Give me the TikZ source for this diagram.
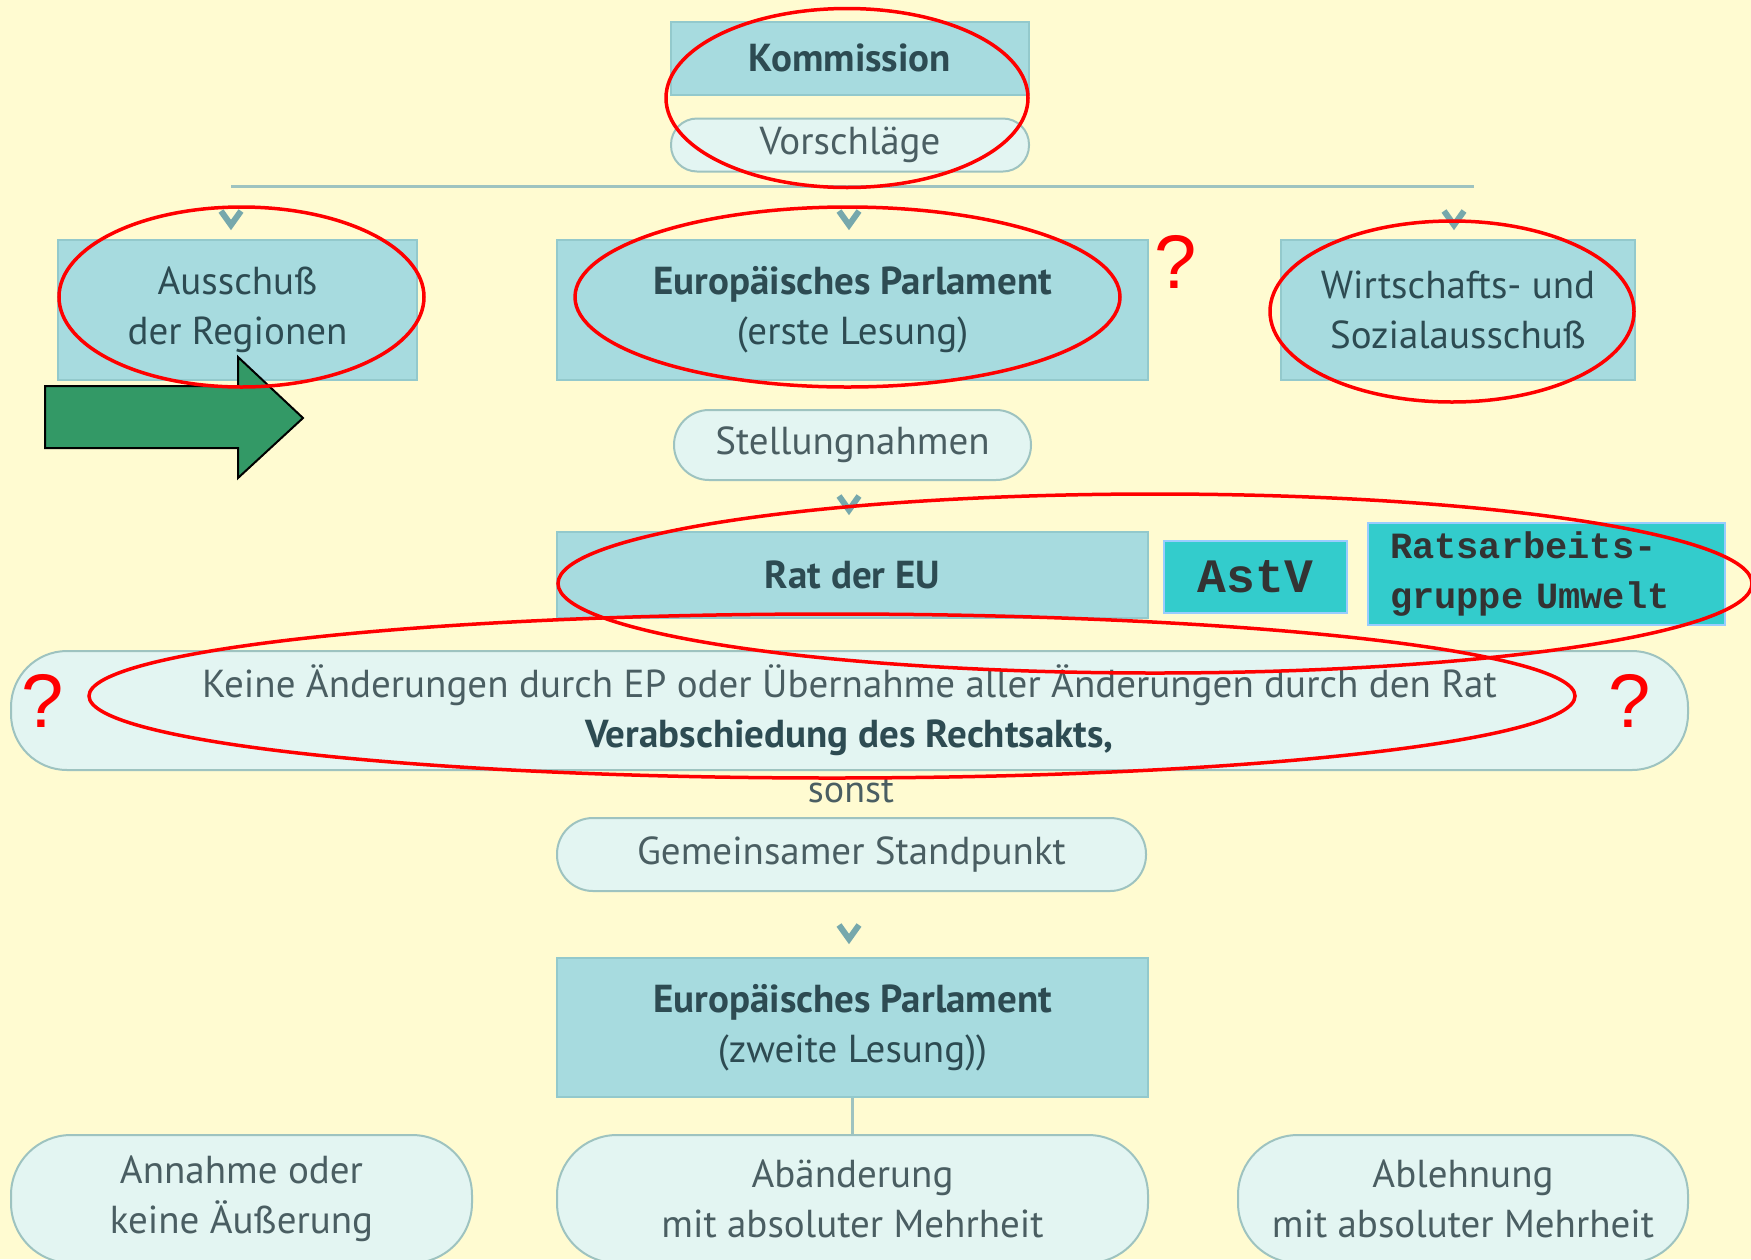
\documentclass[tikz,border=0pt]{standalone}
\usepackage{fontspec}
\setmainfont{PT Sans}
\newfontfamily\tagfont{Liberation Mono}[WordSpace={1,0,0}]
\newfontfamily\qfont{Liberation Sans}
\usepackage{tikz}
\usetikzlibrary{arrows.meta,positioning}

\definecolor{paper}{HTML}{FFFBD1}
\definecolor{boxfill}{HTML}{A7DBDF}
\definecolor{boxline}{HTML}{93C9CC}
\definecolor{pillfill}{HTML}{E3F5F2}
\definecolor{pillline}{HTML}{9EC3C0}
\definecolor{chev}{HTML}{76A8AC}
\definecolor{ink}{HTML}{2D4B52}
\definecolor{softink}{HTML}{4A5E62}
\definecolor{turq}{HTML}{33CCCC}
\definecolor{turqline}{HTML}{99CCFF}
\definecolor{arrowgreen}{HTML}{339966}

\begin{document}
\begin{tikzpicture}[
  x=1pt, y=-1pt,
  every node/.style={font=\fontsize{39}{50}\selectfont, text=ink, align=center, inner sep=0pt},
  box/.style={draw=boxline, line width=2pt, fill=boxfill},
  pill/.style={draw=pillline, line width=2pt, fill=pillfill, text=softink},
  tag/.style={draw=turqline, line width=2pt, fill=turq, text=black!80},
  ring/.style={draw=red, line width=3.5pt},
  qmark/.style={text=red, font=\qfont\fontsize{76}{76}\selectfont},
  link/.style={draw=pillline, line width=3pt},
  vmark/.pic={\draw[chev, line width=6pt, line join=miter] (-10,-7) -- (0,7) -- (10,-7);}
]
\useasboundingbox (0,0) rectangle (1751,1259);
\fill[paper] (0,0) rectangle (1751,1259);
\clip (0,0) rectangle (1751,1259);

\node[box, minimum width=358pt, minimum height=73pt] (komm) at (850,58) {\bfseries Kommission};
\node[pill, rounded corners=26pt, minimum width=358pt, minimum height=53pt, below=22pt of komm] (vor) {Vorschläge};

\coordinate (barL) at (231,186);
\coordinate (barR) at (1474,186);
\draw[link] (barL) -- (barR);

\node[box, minimum width=359pt, minimum height=140pt] (auss) at (237.5,310) {Ausschuß\\der Regionen};
\node[box, minimum width=591pt, minimum height=140pt] (ep1) at (852.5,310) {\bfseries Europäisches Parlament\\(erste Lesung)};
\node[box, minimum width=354pt, minimum height=140pt] (wsa) at (1458,310) {Wirtschafts- und\\Sozialausschuß};

\node[pill, rounded corners=35pt, minimum width=357pt, minimum height=70pt, below=28pt of ep1] (stell) {Stellungnahmen};

\node[box, minimum width=591pt, minimum height=86pt, below=50pt of stell] (rat) {\bfseries Rat der EU};
\node[tag, minimum width=183pt, minimum height=72pt] (astv) at (1255.5,577) {\tagfont\bfseries\fontsize{48}{48}\selectfont AstV};
\node[tag, minimum width=357pt, minimum height=102pt, align=left, text width=313pt] (rag) at (1546.5,574) {\tagfont\bfseries\fontsize{37}{40}\selectfont Ratsarbeits-\\gruppe Umwelt};

\node[pill, rounded corners=56pt, minimum width=1677pt, minimum height=119pt] (keine) at (849.5,710.5)
  {Keine Änderungen durch EP oder Übernahme aller Änderungen durch den Rat\\\bfseries\color{ink} Verabschiedung des Rechtsakts,};
\node[text=softink, font=\fontsize{38}{40}\selectfont] (sonst) at (851,791) {sonst};
\node[pill, rounded corners=36pt, minimum width=589pt, minimum height=73pt] (gs) at (851.5,854.5) {Gemeinsamer Standpunkt};

\node[box, minimum width=591pt, minimum height=139pt] (ep2) at (852.5,1027.5) {\bfseries Europäisches Parlament\\(zweite Lesung))};

\node[pill, rounded corners=60pt, minimum width=461pt, minimum height=128pt] (annahme) at (241.5,1199) {Annahme oder\\keine Äußerung};
\node[pill, rounded corners=60pt, minimum width=591pt, minimum height=128pt] (abaend) at (852.5,1199) {Abänderung\\mit absoluter Mehrheit};
\node[pill, rounded corners=60pt, minimum width=450pt, minimum height=128pt] (ablehn) at (1463,1199) {Ablehnung\\mit absoluter Mehrheit};

\draw[link] (ep2.south) -- (abaend.north);

\path (231,218) pic {vmark};
\path (849,218) pic {vmark};
\path (1454,218) pic {vmark};
\path (849,503) pic {vmark};
\path (849,932) pic {vmark};

\draw[fill=arrowgreen, draw=black, line width=2pt, line join=miter]
  (45,386) -- (238,386) -- (238,357) -- (303,418) -- (238,478) -- (238,448) -- (45,448) -- cycle;

\draw[ring] (847,98) ellipse [x radius=181pt, y radius=89.5pt];
\draw[ring] (241.5,297) ellipse [x radius=182.5pt, y radius=90pt];
\draw[ring] (847.5,297) ellipse [x radius=272.5pt, y radius=90pt];
\draw[ring] (1452,311.5) ellipse [x radius=182pt, y radius=90.5pt];
\draw[ring] (1155,583.5) ellipse [x radius=597pt, y radius=89.5pt];
\draw[ring] (832,696) ellipse [x radius=743pt, y radius=82pt];

\node[qmark] (q1) at (1176,262) {?};
\node[qmark] (q2) at (43,701) {?};
\node[qmark] (q3) at (1630,701) {?};
\end{tikzpicture}
\end{document}
